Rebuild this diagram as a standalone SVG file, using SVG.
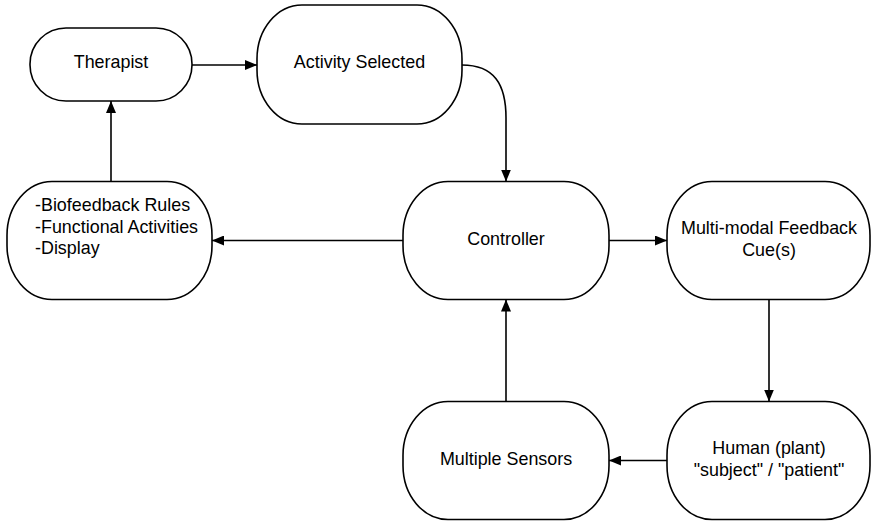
<svg xmlns="http://www.w3.org/2000/svg" width="871" height="521" viewBox="0 0 871 521">
<style>
.box{fill:#fff;stroke:#000;stroke-width:1.6}
.lbl{font-family:"Liberation Sans",Arial,sans-serif;font-size:17.9px;fill:#000}
.c{text-anchor:middle}
.edge{fill:none;stroke:#000;stroke-width:1.6}
</style>
<defs>
<marker id="arr" viewBox="0 0 12 10" refX="12" refY="5" markerWidth="12" markerHeight="10" markerUnits="userSpaceOnUse" orient="auto">
<path d="M0,0 L12,5 L0,10 Z" fill="#000"/>
</marker>
</defs>
<rect width="871" height="521" fill="#fff"/>
<g id="connectors">
<path class="edge" d="M192,65 L257,65" marker-end="url(#arr)"/>
<path class="edge" d="M462,65 C494,65 506,84 506,118 L506,181.5" marker-end="url(#arr)"/>
<path class="edge" d="M111,181.5 L111,101" marker-end="url(#arr)"/>
<path class="edge" d="M403,240.5 L212,240.5" marker-end="url(#arr)"/>
<path class="edge" d="M609,240.5 L667,240.5" marker-end="url(#arr)"/>
<path class="edge" d="M769,299 L769,401.5" marker-end="url(#arr)"/>
<path class="edge" d="M667,460.5 L609,460.5" marker-end="url(#arr)"/>
<path class="edge" d="M506,401.5 L506,299.5" marker-end="url(#arr)"/>
</g>
<g id="therapist">
<rect class="box" x="30" y="28" width="162" height="73" rx="36" ry="36"/>
<text class="lbl c" x="111" y="68">Therapist</text>
</g>
<g id="activity">
<rect class="box" x="257" y="5" width="205" height="119" rx="45" ry="54"/>
<text class="lbl c" x="359.5" y="68">Activity Selected</text>
</g>
<g id="rules">
<rect class="box" x="7" y="181.5" width="205" height="118" rx="45" ry="54"/>
<text class="lbl" x="35" y="211">-Biofeedback Rules</text>
<text class="lbl" x="35" y="232.5">-Functional Activities</text>
<text class="lbl" x="35" y="254">-Display</text>
</g>
<g id="controller">
<rect class="box" x="403" y="181.5" width="206" height="118" rx="45" ry="54"/>
<text class="lbl c" x="506" y="245">Controller</text>
</g>
<g id="feedback">
<rect class="box" x="667" y="181.5" width="203" height="118" rx="45" ry="54"/>
<text class="lbl c" x="769" y="234">Multi-modal Feedback</text>
<text class="lbl c" x="769" y="255.5">Cue(s)</text>
</g>
<g id="sensors">
<rect class="box" x="403" y="401.5" width="206" height="118" rx="45" ry="54"/>
<text class="lbl c" x="506" y="465">Multiple Sensors</text>
</g>
<g id="human">
<rect class="box" x="667" y="401.5" width="203" height="118" rx="45" ry="54"/>
<text class="lbl c" x="769" y="454">Human (plant)</text>
<text class="lbl c" x="769" y="475.5">"subject" / "patient"</text>
</g>
</svg>
